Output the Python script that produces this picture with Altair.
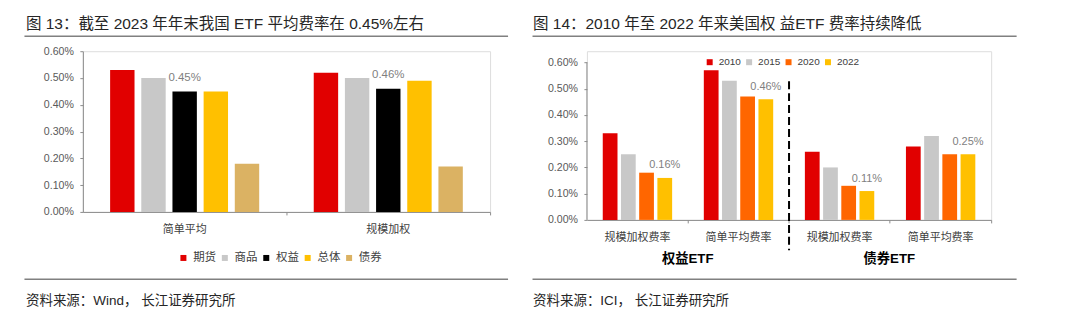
import altair as alt
import pandas as pd

FONT = "Liberation Sans, Noto Sans CJK SC, sans-serif"
AXIS_GRAY = "#8c8c8c"
LINE_GRAY = "#808080"
TEXT_DARK = "#262626"

# ---------------- left chart data ----------------
left_title = "图 13：截至 2023 年年末我国 ETF 平均费率在 0.45%左右"
left_source = "资料来源：Wind， 长江证券研究所"
left_cats = ["简单平均", "规模加权"]
left_series = ["期货", "商品", "权益", "总体", "债券"]
left_colors = ["#E10000", "#C8C8C8", "#000000", "#FFC000", "#DBB263"]
left_simple = [0.53, 0.50, 0.45, 0.45, 0.18]
left_weighted = [0.52, 0.50, 0.46, 0.49, 0.17]
left_labeled = "权益"
y_ticks = [0.0, 0.1, 0.2, 0.3, 0.4, 0.5, 0.6]

# ---------------- right chart data ----------------
right_title = "图 14：2010 年至 2022 年来美国权 益ETF 费率持续降低"
right_source = "资料来源：ICI， 长江证券研究所"
right_groups = ["权益ETF", "债券ETF"]
right_cats = ["规模加权费率", "简单平均费率"]
right_series = ["2010", "2015", "2020", "2022"]
right_colors = ["#E10000", "#C8C8C8", "#FF6600", "#FFC000"]
equity_weighted = [0.33, 0.25, 0.18, 0.16]
equity_simple = [0.57, 0.53, 0.47, 0.46]
bond_weighted = [0.26, 0.20, 0.13, 0.11]
bond_simple = [0.28, 0.32, 0.25, 0.25]
right_labeled = "2022"

# ---------------- tables ----------------
rows1 = []
for c, vals in zip(left_cats, [left_simple, left_weighted]):
    for s, v in zip(left_series, vals):
        rows1.append({"cat": c, "s1": s, "value": v})
df1 = pd.DataFrame(rows1)

right_keys = [g + "|" + c for g in right_groups for c in right_cats]
right_vals = [equity_weighted, equity_simple, bond_weighted, bond_simple]
rows2 = []
for k, vals in zip(right_keys, right_vals):
    for s, v in zip(right_series, vals):
        rows2.append({"key": k, "s2": s, "value": v})
df2 = pd.DataFrame(rows2)

one = pd.DataFrame({"k": [0]})


def note(text, x, y, size, color=TEXT_DARK, bold=False, align="left"):
    return alt.Chart(one).mark_text(
        align=align, baseline="middle", fontSize=size, color=color, font=FONT,
        fontWeight="bold" if bold else "normal"
    ).encode(x=alt.value(x), y=alt.value(y), text=alt.value(text))


def hline(x1, x2, y):
    return alt.Chart(one).mark_rule(color=LINE_GRAY, strokeWidth=1.5).encode(
        x=alt.value(x1), x2=alt.value(x2), y=alt.value(y))


def y_axis(values, domain=True):
    return alt.Axis(values=values, labelExpr="format(datum.value, '.2f') + '%'",
                    tickSize=3, labelPadding=6.5, domain=domain, domainColor=AXIS_GRAY,
                    tickColor=AXIS_GRAY, grid=False, title=None, labelFontSize=10.6,
                    labelColor="#595959", labelFont=FONT, orient="left")


tick_axis = alt.Axis(orient="bottom", labels=False, ticks=True, tickSize=3, bandPosition=1,
                     domain=True, domainColor=AXIS_GRAY, tickColor=AXIS_GRAY, title=None, grid=False)


def label_axis(expr=None):
    kw = dict(orient="bottom", ticks=False, tickSize=0, domain=False, labelPadding=12,
              labelFontSize=11, labelColor="#404040", labelFont=FONT, title=None,
              grid=False, labelAngle=0)
    if expr:
        kw["labelExpr"] = expr
    return alt.Axis(**kw)


# ---------------- left panel ----------------
W1, H1 = 408, 161
bg = alt.Chart(one).mark_rect(opacity=0).encode(
    x=alt.value(-82), x2=alt.value(998), y=alt.value(-50), y2=alt.value(285))

xs1 = alt.Scale(type="band", domain=left_cats, paddingInner=0, paddingOuter=0)
xo1 = alt.Scale(type="band", domain=left_series, range=[0, W1 / len(left_cats)],
                paddingInner=0.217, paddingOuter=0.875)
ys1 = alt.Scale(domain=[0, 0.6], nice=False)
ya1 = y_axis(y_ticks)
bars1 = alt.Chart(df1).mark_bar().encode(
    x=alt.X("cat:N", scale=xs1, axis=tick_axis),
    xOffset=alt.XOffset("s1:N", scale=xo1),
    y=alt.Y("value:Q", scale=ys1, axis=ya1),
    color=alt.Color("s1:N", scale=alt.Scale(domain=left_series, range=left_colors),
                    legend=alt.Legend(orient="none", legendX=95, legendY=201, direction="horizontal",
                                      title=None, symbolType="square", symbolSize=36,
                                      symbolStrokeWidth=0, labelFontSize=11.5, labelFont=FONT,
                                      labelColor="#404040", columnPadding=2.5, labelOffset=4,
                                      padding=0)),
)
vals1 = alt.Chart(df1).transform_filter(alt.datum.s1 == left_labeled).transform_calculate(
    label="format(datum.value, '.2f') + '%'"
).mark_text(baseline="middle", dy=-13.5, fontSize=11.5, color="#7f7f7f", font=FONT).encode(
    x=alt.X("cat:N", scale=xs1, axis=label_axis()),
    xOffset=alt.XOffset("s1:N", scale=xo1),
    y=alt.Y("value:Q", scale=ys1, axis=ya1),
    text="label:N",
)
p1 = alt.layer(
    bg, bars1, vals1,
    note(left_title, -57, -27.5, 15.5),
    hline(-58.5, 426, -15),
    hline(-58.5, 426, 228.5),
    note(left_source, -57, 250, 13.5),
).resolve_axis(x="independent").properties(width=W1, height=H1)

# ---------------- right panel ----------------
W2, H2 = 405, 169
ymax2 = 0.643
xs2 = alt.Scale(type="band", domain=right_keys, paddingInner=0, paddingOuter=0)
xo2 = alt.Scale(type="band", domain=right_series, range=[0, W2 / len(right_keys)],
                paddingInner=0.19, paddingOuter=0.87)
ys2 = alt.Scale(domain=[0, ymax2], nice=False)
ya2 = y_axis(y_ticks, domain=False)
bars2 = alt.Chart(df2).mark_bar().encode(
    x=alt.X("key:N", scale=xs2, axis=tick_axis),
    xOffset=alt.XOffset("s2:N", scale=xo2),
    y=alt.Y("value:Q", scale=ys2, axis=ya2),
    color=alt.Color("s2:N", scale=alt.Scale(domain=right_series, range=right_colors),
                    legend=alt.Legend(orient="none", legendX=118, legendY=6, direction="horizontal",
                                      title=None, symbolType="square", symbolSize=36,
                                      symbolStrokeWidth=0, labelFontSize=10, labelFont=FONT,
                                      labelColor="#404040", columnPadding=2.5, labelOffset=4,
                                      padding=0)),
)
vals2 = alt.Chart(df2).transform_filter(alt.datum.s2 == right_labeled).transform_calculate(
    label="format(datum.value, '.2f') + '%'"
).mark_text(baseline="middle", dy=-12.5, fontSize=11, color="#7f7f7f", font=FONT).encode(
    x=alt.X("key:N", scale=xs2, axis=label_axis("split(datum.label, '|')[1]")),
    xOffset=alt.XOffset("s2:N", scale=xo2),
    y=alt.Y("value:Q", scale=ys2, axis=ya2),
    text="label:N",
)
yline = alt.Chart(pd.DataFrame({"lo": [0.0], "hi": [max(y_ticks)]})).mark_rule(
    color=AXIS_GRAY, strokeWidth=1).encode(
    x=alt.value(0), y=alt.Y("lo:Q", scale=ys2, axis=ya2), y2="hi:Q")
dash = alt.Chart(pd.DataFrame({"key": [right_keys[2]]})).mark_rule(
    color="black", strokeWidth=2, strokeDash=[8, 4]).encode(
    x=alt.X("key:N", scale=xs2, bandPosition=0, axis=None), y=alt.value(30), y2=alt.value(199.4))

p2 = alt.layer(
    bars2, vals2, yline, dash,
    note(right_groups[0], 101, 208, 13.3, color="#000000", bold=True, align="center"),
    note(right_groups[1], 303, 208, 13.3, color="#000000", bold=True, align="center"),
    note(right_title, -54, -27.5, 15.5),
    hline(-54.5, 430.5, -15),
    hline(-54.5, 430.5, 228.5),
    note(right_source, -54, 250, 13.5),
).resolve_axis(x="independent").properties(width=W2, height=H2)

chart = alt.hconcat(p1, p2, spacing=97, bounds="flush").resolve_scale(
    color="independent", xOffset="independent", x="independent", y="independent"
).resolve_legend(color="independent").properties(
    padding=0, background="white").configure_view(stroke=None).configure(font=FONT)

chart.save("out.html", embed_options={"renderer": "svg", "actions": False})
